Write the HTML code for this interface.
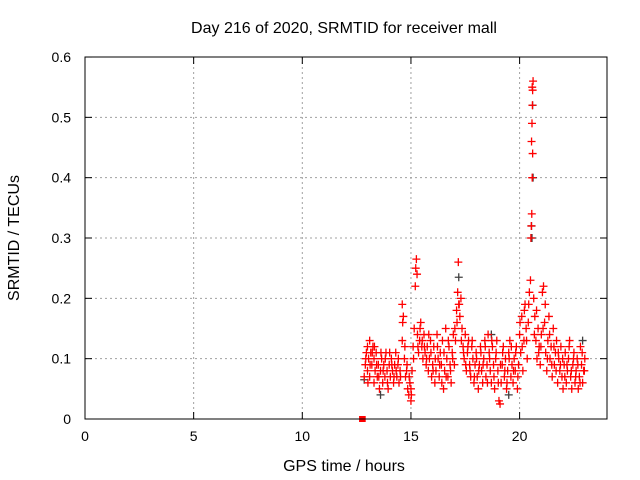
<!DOCTYPE html>
<html><head><meta charset="utf-8"><style>
body{margin:0;background:#fff}
svg{display:block;font-family:"Liberation Sans",sans-serif}
</style></head><body>
<svg id="c" width="640" height="480">
<text x="344" y="33" text-anchor="middle" font-size="16">Day 216 of 2020, SRMTID for receiver mall</text>
<text x="344" y="471" text-anchor="middle" font-size="16">GPS time / hours</text>
<text transform="translate(19,238) rotate(-90)" text-anchor="middle" font-size="16">SRMTID / TECUs</text>
<g id="grid"></g><g id="pts"></g>
<rect x="85" y="57" width="522" height="362" fill="none" stroke="#000" stroke-width="1"/>
</svg>
<script>
const xTicks=[0,5,10,15,20];
const yTicks=[0,0.1,0.2,0.3,0.4,0.5,0.6];
const yTickLabels=["0","0.1","0.2","0.3","0.4","0.5","0.6"];
const redTimes=[12.85,12.9,12.95,13.0,13.0,13.05,13.1,13.1,13.15,13.2,13.25,13.3,13.3,13.35,13.4,13.45,13.5,13.55,13.6,13.65,13.7,13.75,13.8,13.85,13.9,13.95,14.0,14.05,14.1,14.15,14.2,14.25,14.3,14.35,14.4,14.45,14.5,14.6,14.6,14.65,14.7,14.75,14.8,14.85,14.9,14.95,15.0,15.0,15.05,15.1,15.15,15.2,15.22,15.25,15.28,15.3,15.35,15.4,15.45,15.5,15.55,15.6,15.65,15.7,15.75,15.8,15.85,15.9,15.95,16.0,16.05,16.1,16.15,16.2,16.25,16.3,16.35,16.4,16.45,16.5,16.55,16.6,16.65,16.7,16.75,16.8,16.85,16.9,16.95,17.0,17.05,17.1,17.15,17.18,17.2,17.25,17.3,17.35,17.4,17.45,17.5,17.55,17.6,17.65,17.7,17.75,17.8,17.85,17.9,17.95,18.0,18.05,18.1,18.15,18.2,18.25,18.3,18.35,18.4,18.45,18.5,18.55,18.6,18.65,18.7,18.75,18.8,18.85,18.9,18.95,19.0,19.05,19.1,19.15,19.2,19.25,19.3,19.35,19.4,19.45,19.5,19.55,19.6,19.65,19.7,19.75,19.8,19.85,19.9,19.95,20.0,20.05,20.1,20.15,20.2,20.25,20.3,20.35,20.4,20.45,20.5,20.52,20.54,20.56,20.58,20.6,20.55,20.57,20.59,20.6,20.58,20.62,20.65,20.7,20.75,20.8,20.85,20.9,20.95,21.0,21.05,21.1,21.15,21.2,21.25,21.3,21.35,21.4,21.45,21.5,21.55,21.6,21.65,21.7,21.75,21.8,21.85,21.9,21.95,22.0,22.05,22.1,22.15,22.2,22.25,22.3,22.35,22.4,22.45,22.5,22.55,22.6,22.65,22.7,22.75,22.8,22.85,22.9,22.95,23.0];
const redValues=[.07,.09,.11,.12,.08,.10,.13,.07,.11,.09,.12,.10,.06,.08,.11,.07,.09,.05,.08,.10,.06,.09,.07,.11,.08,.05,.09,.07,.10,.08,.06,.09,.11,.07,.09,.06,.08,.13,.19,.17,.10,.07,.08,.05,.04,.06,.03,.05,.08,.12,.15,.22,.25,.265,.24,.14,.11,.13,.16,.12,.10,.14,.11,.09,.12,.08,.10,.13,.07,.09,.12,.06,.08,.14,.10,.07,.11,.09,.13,.05,.08,.15,.10,.07,.12,.09,.06,.11,.14,.09,.13,.18,.21,.26,.19,.17,.20,.15,.12,.10,.14,.08,.11,.13,.09,.07,.12,.10,.06,.09,.11,.07,.05,.09,.12,.08,.06,.10,.13,.07,.09,.14,.11,.08,.06,.12,.09,.05,.10,.13,.08,.03,.025,.06,.09,.12,.07,.10,.05,.08,.11,.13,.07,.09,.06,.10,.08,.12,.05,.09,.14,.11,.17,.08,.13,.19,.15,.10,.16,.21,.23,.30,.32,.34,.40,.44,.46,.49,.52,.545,.55,.56,.20,.17,.13,.10,.15,.12,.09,.14,.21,.22,.16,.11,.08,.13,.17,.10,.12,.07,.15,.09,.11,.13,.06,.10,.08,.12,.07,.05,.09,.11,.06,.08,.10,.13,.07,.05,.09,.11,.06,.08,.10,.05,.07,.12,.09,.06,.08,.10];
const extraTimes=[12.92,13.02,13.12,13.22,13.32,13.42,13.52,13.62,13.72,13.82,13.92,14.02,14.12,14.22,14.32,14.42,14.52,14.62,14.72,14.82,14.92,15.02,15.12,15.32,15.42,15.52,15.62,15.72,15.82,15.92,16.02,16.12,16.22,16.32,16.42,16.52,16.62,16.72,16.82,16.92,17.02,17.12,17.22,17.32,17.42,17.52,17.62,17.72,17.82,17.92,18.02,18.12,18.22,18.32,18.42,18.52,18.62,18.72,18.82,18.92,19.02,19.12,19.22,19.32,19.42,19.52,19.62,19.72,19.82,19.92,20.02,20.12,20.22,20.32,20.42,20.68,20.78,20.88,20.98,21.08,21.18,21.28,21.38,21.48,21.58,21.68,21.78,21.88,21.98,22.08,22.18,22.28,22.38,22.48,22.58,22.68,22.78,22.88,22.98];
const extraValues=[.10,.06,.09,.11,.12,.09,.07,.11,.08,.10,.06,.11,.09,.07,.08,.10,.07,.16,.12,.09,.07,.04,.10,.12,.15,.13,.12,.10,.14,.11,.08,.10,.12,.09,.06,.11,.07,.13,.08,.10,.15,.16,.19,.13,.11,.09,.12,.08,.13,.07,.10,.08,.11,.09,.12,.06,.10,.13,.07,.11,.06,.09,.11,.08,.06,.10,.12,.08,.11,.07,.16,.12,.18,.13,.19,.14,.18,.11,.12,.15,.19,.10,.14,.09,.12,.08,.11,.09,.10,.07,.09,.12,.08,.10,.07,.09,.06,.11,.08];
const grayTimes=[12.85,13.6,17.2,18.7,19.5,20.55,20.57,20.6,20.62,22.9];
const grayValues=[.065,.04,.235,.14,.04,.32,.30,.52,.40,.13];
const zeroTimes=[12.75,12.78];
const zeroValues=[0,0];
const X=t=>85+t*21.73, Y=v=>419-v*603.3;
const NS="http://www.w3.org/2000/svg";
const grid=document.getElementById('grid'), pts=document.getElementById('pts'), svg=document.getElementById('c');
function mk(tag,attrs,parent){const e=document.createElementNS(NS,tag);for(const k in attrs)e.setAttribute(k,attrs[k]);parent.appendChild(e);return e;}
xTicks.forEach(t=>{
 const x=X(t);
 if(t>0){const g=mk('line',{x1:x,x2:x,y1:57,y2:419,stroke:'#a0a0a0','stroke-dasharray':'2,3'},grid);
 
 }
 mk('line',{x1:x,x2:x,y1:419,y2:412,stroke:'#000'},grid);
 mk('line',{x1:x,x2:x,y1:57,y2:64,stroke:'#000'},grid);
 const l=mk('text',{x:x,y:441,'text-anchor':'middle','font-size':14},svg);l.textContent=t;
 
 
});
yTicks.forEach((v,i)=>{
 const y=Y(v);
 if(v>0&&v<0.6){const g=mk('line',{x1:85,x2:607,y1:y,y2:y,stroke:'#a0a0a0','stroke-dasharray':'2,3'},grid);
 
 }
 mk('line',{x1:85,x2:92,y1:y,y2:y,stroke:'#000'},grid);
 mk('line',{x1:600,x2:607,y1:y,y2:y,stroke:'#000'},grid);
 const l=mk('text',{x:71,y:y+5,'text-anchor':'end','font-size':14},svg);l.textContent=yTickLabels[i];
 
 
});
function plus(t,v,col){const x=X(t),y=Y(v);
 const p=mk('path',{d:`M${x-4},${y}H${x+4}M${x},${y-4}V${y+4}`,stroke:col,'stroke-width':1.3,fill:'none'},pts);
 
 }
grayTimes.forEach((t,i)=>plus(t,grayValues[i],'#404040'));
redTimes.forEach((t,i)=>plus(t,redValues[i],'#ff0000'));
extraTimes.forEach((t,i)=>plus(t,extraValues[i],'#ff0000'));
zeroTimes.forEach((t,i)=>{const r=mk('rect',{x:X(t)-3,y:Y(zeroValues[i])-3,width:6,height:6,fill:'#ff0000'},pts);
 
 });
</script>
</body></html>
